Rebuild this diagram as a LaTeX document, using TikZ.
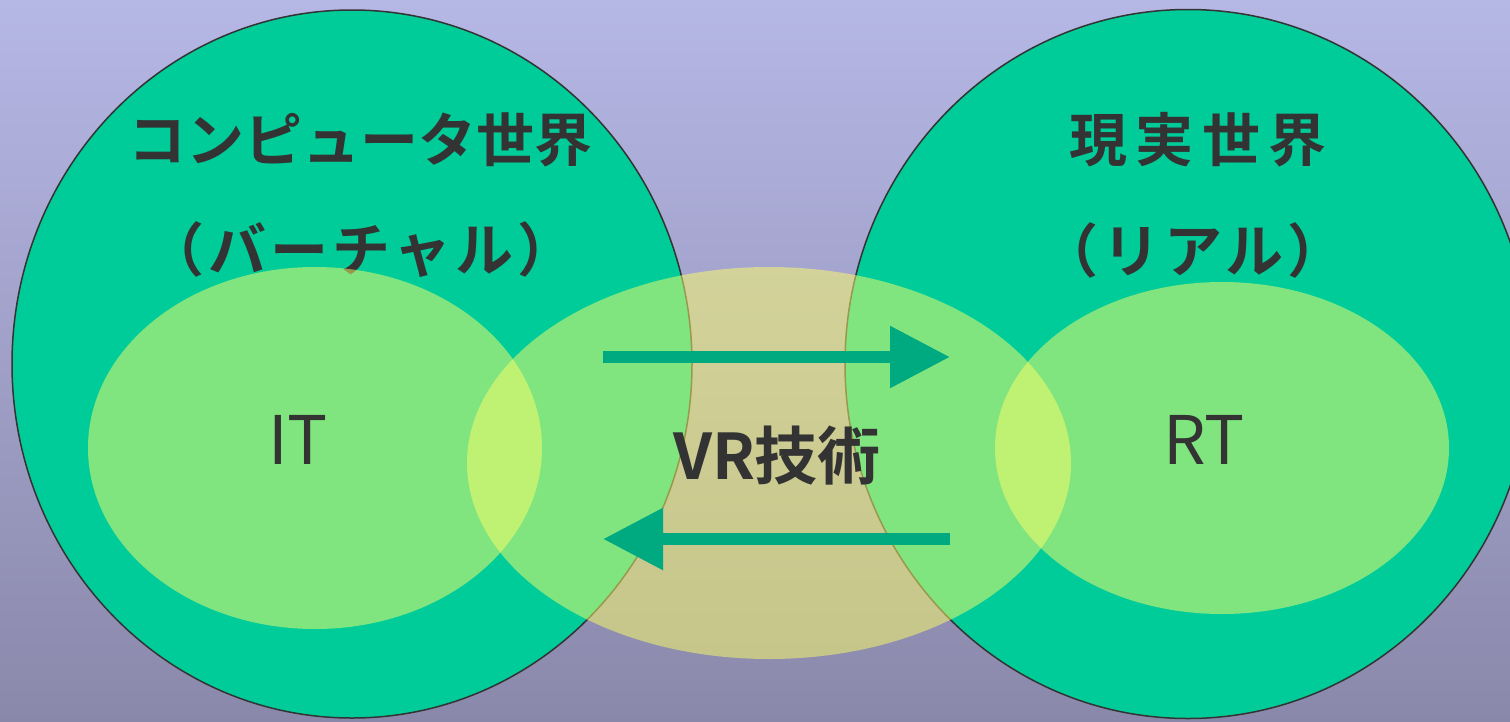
\documentclass[tikz,border=0pt]{standalone}
\usepackage{fontspec}
\usetikzlibrary{shapes.geometric,arrows.meta}
\newfontfamily\jpb{Noto Sans CJK JP Bold}
\newfontfamily\jpr{Noto Sans CJK JP}
\newfontfamily\jpbw[LetterSpace=14]{Noto Sans CJK JP Bold}
\newfontfamily\jpbm[LetterSpace=7]{Noto Sans CJK JP Bold}
\definecolor{bgtop}{RGB}{181,183,229}
\definecolor{bgbot}{RGB}{138,136,170}
\definecolor{world}{RGB}{0,204,153}
\definecolor{edge}{RGB}{51,51,51}
\definecolor{tech}{RGB}{255,255,102}
\definecolor{arrowc}{RGB}{0,170,128}
\tikzset{
  worldc/.style={ellipse, draw=edge, line width=1.5pt, fill=world, inner sep=0pt},
  techc/.style={ellipse, fill=tech, fill opacity=0.5, inner sep=0pt},
  head/.style={text=edge, font=\jpb\fontsize{58}{58}\selectfont, inner sep=0pt},
  headw/.style={text=edge, font=\jpbw\fontsize{58}{58}\selectfont, inner sep=0pt},
  headm/.style={text=edge, font=\jpbm\fontsize{58}{58}\selectfont, inner sep=0pt},
  lab/.style={text=edge, font=\jpr\fontsize{67}{67}\selectfont, inner sep=0pt},
  labb/.style={text=edge, font=\jpb\fontsize{63}{63}\selectfont, inner sep=0pt},
  flow/.style={draw=arrowc, line width=12pt, -{Triangle[length=60pt,width=59pt]}}
}
\begin{document}
\begin{tikzpicture}[x=1pt,y=-1pt]
\useasboundingbox (0,0) rectangle (1510,721);
\clip (0,0) rectangle (1510,721);
\shade[top color=bgtop, bottom color=bgbot] (0,0) rectangle (1510,721);
\node[worldc, minimum width=680pt, minimum height=708pt] (cw) at (352,364) {};
\node[worldc, minimum width=686pt, minimum height=709pt] (rw) at (1188,364) {};
\node[head] (cwt) at (360,140) {コンピュータ世界};
\node[headm] (cws) at (361,250) {（バーチャル）};
\node[headw] (rwt) at (1198,140) {現実世界};
\node[headm] (rws) at (1193,250) {（リアル）};
\node[techc, minimum width=454pt, minimum height=362pt] (it) at (315,448) {};
\node[techc, minimum width=604pt, minimum height=392pt] (vr) at (769,463) {};
\node[techc, minimum width=454pt, minimum height=332pt] (rt) at (1222,448) {};
\coordinate (a1s) at (603,357);
\coordinate (a1e) at (950,357);
\coordinate (a2s) at (950,539);
\coordinate (a2e) at (603,539);
\draw[flow] (a1s) -- (a1e);
\draw[flow] (a2s) -- (a2e);
\node[lab] (itl) at (298,440) {IT};
\node[labb] (vrl) at (777,456) {VR技術};
\node[lab] (rtl) at (1204,440) {RT};
\end{tikzpicture}
\end{document}
